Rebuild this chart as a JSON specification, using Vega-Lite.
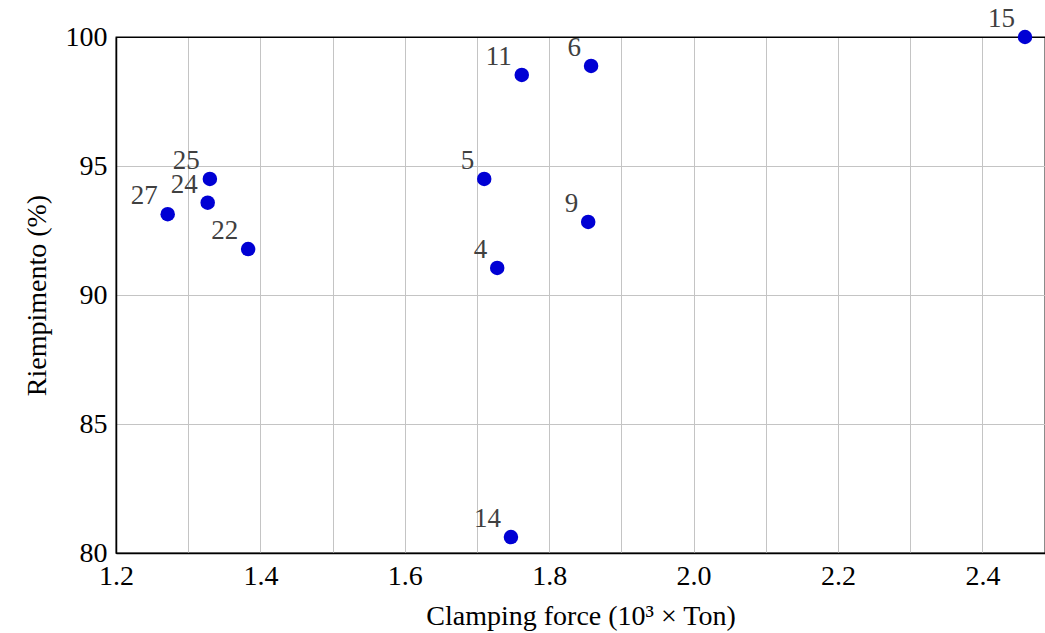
{
  "$schema": "https://vega.github.io/schema/vega-lite/v6.json",
  "autosize": {"type": "none"},
  "padding": {"left": 116, "top": 37, "right": 0, "bottom": 80},
  "width": 929,
  "height": 516,
  "background": "white",
  "config": {
    "view": {"stroke": "black", "strokeWidth": 1.3},
    "font": "Liberation Serif",
    "axis": {
      "labelFont": "Liberation Serif",
      "titleFont": "Liberation Serif",
      "labelFontSize": 28,
      "titleFontSize": 28,
      "labelColor": "black",
      "titleColor": "black",
      "titleFontWeight": "normal",
      "gridWidth": 1,
      "domainColor": "black",
      "domainWidth": 1.5,
      "tickSize": 0,
      "labelPadding": 9,
      "zindex": 1
    }
  },
  "data": {
    "values": [
      {"force": 2.459, "fill": 100.0, "id": "15"},
      {"force": 1.858, "fill": 98.88, "id": "6"},
      {"force": 1.762, "fill": 98.53, "id": "11"},
      {"force": 1.710, "fill": 94.50, "id": "5"},
      {"force": 1.854, "fill": 92.83, "id": "9"},
      {"force": 1.728, "fill": 91.05, "id": "4"},
      {"force": 1.747, "fill": 80.62, "id": "14"},
      {"force": 1.330, "fill": 94.50, "id": "25"},
      {"force": 1.327, "fill": 93.58, "id": "24"},
      {"force": 1.2716, "fill": 93.13, "id": "27"},
      {"force": 1.383, "fill": 91.78, "id": "22"}
    ]
  },
  "encoding": {
    "x": {
      "field": "force",
      "type": "quantitative",
      "scale": {"domain": [1.2, 2.4867], "nice": false, "zero": false},
      "axis": {
        "title": "Clamping force (10³ × Ton)",
        "values": [1.2, 1.3, 1.4, 1.5, 1.6, 1.7, 1.8, 1.9, 2.0, 2.1, 2.2, 2.3, 2.4],
        "labelExpr": "round(datum.value*10) % 2 == 0 ? format(datum.value, '.1f') : ''",
        "gridColor": {"condition": {"test": "datum.value <= 1.2", "value": "black"}, "value": "#c4c4c4"},
        "titlePadding": 12,
        "labelFlush": false,
        "labelOverlap": false
      }
    },
    "y": {
      "field": "fill",
      "type": "quantitative",
      "scale": {"domain": [80, 100], "nice": false, "zero": false},
      "axis": {
        "title": "Riempimento (%)",
        "values": [80, 85, 90, 95, 100],
        "format": "d",
        "gridColor": {"condition": {"test": "datum.value >= 100 || datum.value <= 80", "value": "black"}, "value": "#c4c4c4"},
        "titlePadding": 14,
        "labelFlush": false,
        "labelOverlap": false
      }
    }
  },
  "layer": [
    {
      "mark": {"type": "circle", "size": 210, "color": "#0000d4", "opacity": 1, "clip": false}
    },
    {
      "mark": {"type": "text", "align": "right", "baseline": "alphabetic", "dx": -10, "dy": -10, "fontSize": 27, "color": "#404040", "font": "Liberation Serif"},
      "encoding": {"text": {"field": "id"}}
    }
  ]
}
